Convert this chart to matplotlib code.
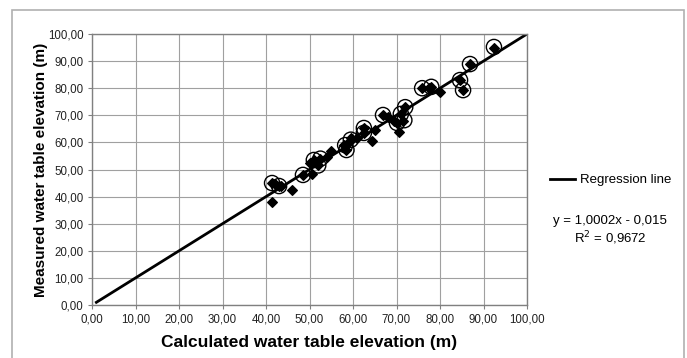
import matplotlib.pyplot as plt
from matplotlib.patches import Rectangle
from matplotlib.lines import Line2D

plt.rcParams['font.family'] = ['Liberation Sans', 'DejaVu Sans']

# all observation points (calculated vs measured)
calc_all = [41.4, 42.0, 43.5, 41.4, 43.0, 46.0, 48.5, 50.0, 50.5, 51.0, 52.0, 52.5,
            54.0, 55.0, 58.0, 58.5, 59.0, 59.5, 61.0, 62.5, 62.5, 64.4, 65.0, 67.0,
            68.0, 69.5, 70.1, 70.6, 71.0, 71.5, 72.0, 75.9, 77.5, 78.0, 80.0, 84.6,
            85.3, 86.9, 92.4]
meas_all = [45.0, 44.5, 44.0, 38.0, 43.9, 42.4, 48.0, 52.5, 48.5, 53.5, 51.5, 54.0,
            54.5, 57.0, 59.0, 57.2, 60.0, 61.5, 61.5, 65.3, 63.5, 60.5, 64.5, 70.1,
            69.5, 68.0, 67.2, 63.8, 70.5, 68.0, 73.0, 80.0, 80.0, 80.5, 78.6, 83.0,
            79.3, 88.9, 95.0]

# circled points
calc_circ = [41.4, 43.0, 48.5, 51.0, 52.0, 52.5, 58.2, 58.5, 59.5, 62.5, 62.5, 66.9,
             70.1, 71.0, 71.8, 72.0, 75.9, 78.0, 84.6, 85.3, 86.9, 92.4]
meas_circ = [45.0, 43.9, 48.0, 53.5, 51.5, 54.0, 59.0, 57.2, 61.0, 65.3, 63.5, 70.1,
             67.2, 70.5, 68.2, 73.0, 80.0, 80.5, 83.0, 79.3, 88.9, 95.2]

slope = 1.0002
intercept = -0.015
line_x = [1.0, 100.0]

ticks = [0, 10, 20, 30, 40, 50, 60, 70, 80, 90, 100]
tick_labels = [('%.2f' % t).replace('.', ',') for t in ticks]

fig = plt.figure(figsize=(6.87, 3.58), dpi=100)
fig.patches.append(Rectangle((12 / 687, -0.01), (684 - 12) / 687, (358 - 10) / 358 + 0.01,
                             transform=fig.transFigure, fill=False,
                             edgecolor='#b0b0b0', linewidth=1.2))

ax = fig.add_axes([92 / 687, 53 / 358, 435 / 687, 271 / 358])
ax.set_xlim(0, 100)
ax.set_ylim(0, 100)
ax.set_xticks(ticks)
ax.set_yticks(ticks)
ax.set_xticklabels(tick_labels, fontsize=8.3, color='#222222')
ax.set_yticklabels(tick_labels, fontsize=8.3, color='#222222')
ax.grid(True, color='#a0a0a0', linewidth=0.8)
ax.set_axisbelow(True)
for s in ax.spines.values():
    s.set_color('#808080')
    s.set_linewidth(1.0)
ax.tick_params(length=3, color='#808080', pad=3)

ax.plot(line_x, [slope * v + intercept for v in line_x], color='black', linewidth=2,
        zorder=2)
ax.scatter(calc_circ, meas_circ, s=120, facecolors='none', edgecolors='black',
           linewidths=1.0, zorder=3)
ax.scatter(calc_all, meas_all, marker='D', s=24, color='black', zorder=4)

ax.set_xlabel('Calculated water table elevation (m)', fontsize=12.5, fontweight='bold',
              labelpad=7)
ax.set_ylabel('Measured water table elevation (m)', fontsize=11, fontweight='bold',
              labelpad=0)

fig.legend(handles=[Line2D([0], [0], color='black', linewidth=2)],
           labels=['Regression line'], loc='center left',
           bbox_to_anchor=(538 / 687, 1 - 180 / 358), frameon=False, fontsize=9.5,
           handlelength=1.9, handletextpad=0.4)

eq = 'y = %sx - %s' % (str(slope).replace('.', ','), str(-intercept).replace('.', ','))
fig.text(610 / 687, 1 - 221 / 358, eq, ha='center', va='center', fontsize=9.5)
fig.text(610 / 687, 1 - 238 / 358, r'R$^2$ = 0,9672', ha='center', va='center',
         fontsize=9.5)

fig.savefig('out.png', dpi=100)
